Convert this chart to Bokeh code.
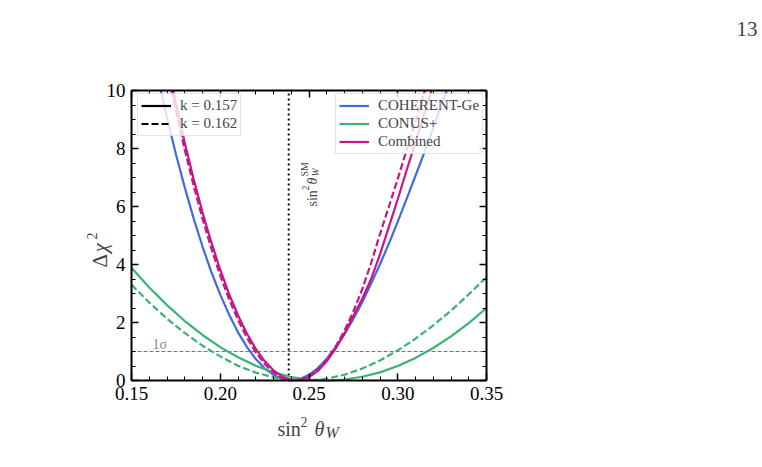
import math
from bokeh.plotting import figure
from bokeh.models import (Range1d, LinearAxis, FixedTicker, Legend, LegendItem, Label,
                          PrintfTickFormatter, CustomJSTickFormatter)
from bokeh.embed import file_html
from bokeh.resources import INLINE

# ---- Delta chi^2 profiles versus sin^2(theta_W) ----
coh_x = [0.160, 0.165, 0.170, 0.175, 0.180, 0.185, 0.190, 0.195, 0.200, 0.205, 0.210, 0.215,
         0.220, 0.225, 0.230, 0.235, 0.240, 0.245, 0.250, 0.255, 0.260, 0.265, 0.270, 0.275,
         0.280, 0.285, 0.290, 0.295, 0.300, 0.305, 0.310, 0.315, 0.320, 0.325, 0.330, 0.335]
coh_chi2 = [11.8, 10.4, 9.06, 7.81, 6.66, 5.59, 4.62, 3.74, 2.96, 2.27, 1.66, 1.16,
            0.74, 0.42, 0.19, 0.05, 0.0, 0.05, 0.196, 0.43, 0.75, 1.14, 1.60, 2.12,
            2.70, 3.34, 4.01, 4.72, 5.48, 6.26, 7.06, 7.87, 8.71, 9.57, 10.41, 11.2]

conus_x = [0.15, 0.16, 0.17, 0.18, 0.19, 0.20, 0.21, 0.22, 0.23, 0.24, 0.25,
           0.26, 0.27, 0.28, 0.29, 0.30, 0.31, 0.32, 0.33, 0.34, 0.35]
conus_chi2_k157 = [3.89, 3.21, 2.60, 2.05, 1.57, 1.15, 0.80, 0.51, 0.28, 0.12, 0.03,
                   0.0, 0.034, 0.13, 0.28, 0.50, 0.78, 1.12, 1.52, 1.98, 2.50]
conus_chi2_k162 = [3.30, 2.69, 2.13, 1.64, 1.20, 0.83, 0.51, 0.27, 0.11, 0.02, 0.0,
                   0.06, 0.20, 0.41, 0.69, 1.04, 1.44, 1.90, 2.41, 2.97, 3.56]

comb_x = [0.165, 0.170, 0.175, 0.180, 0.185, 0.190, 0.195, 0.200, 0.205, 0.210, 0.215,
          0.220, 0.225, 0.230, 0.235, 0.240, 0.245, 0.250, 0.255, 0.260, 0.265, 0.270,
          0.275, 0.280, 0.285, 0.290, 0.295, 0.300, 0.305, 0.310, 0.315, 0.320, 0.325]
comb_chi2_k157 = [12.57, 11.0, 9.55, 8.20, 6.95, 5.80, 4.76, 3.82, 2.98, 2.25, 1.62,
                  1.09, 0.67, 0.35, 0.13, 0.02, 0.01, 0.12, 0.33, 0.66, 1.10, 1.62,
                  2.22, 2.82, 3.50, 4.35, 5.30, 6.25, 7.25, 8.22, 9.20, 10.2, 11.2]
comb_chi2_k162 = [12.3, 10.76, 9.31, 7.96, 6.72, 5.58, 4.55, 3.62, 2.80, 2.09, 1.48,
                  0.97, 0.57, 0.28, 0.09, 0.01, 0.03, 0.15, 0.38, 0.72, 1.17, 1.72,
                  2.38, 3.15, 4.05, 5.05, 6.00, 6.95, 7.95, 8.95, 9.95, 11.0, 12.0]

sin2_sm = 0.23857
one_sigma = 1.0

x_lo, x_hi = 0.15, 0.35
y_lo, y_hi = 0.0, 10.0
x_major = [0.15, 0.20, 0.25, 0.30, 0.35]
x_minor = [round(0.15 + 0.01 * i, 2) for i in range(21)]
y_major = [0, 2, 4, 6, 8, 10]
y_minor = [0.5 * i for i in range(21)]

SERIF = "Liberation Serif"
BLUE = "#4169E1"
GREEN = "#3CB371"
MAGENTA = "#C71585"
DASH = "7 3"
LW = 2.2
NAN = float("nan")

# page geometry: the canvas is the frame, the axes box sits inside it
W, H = 762, 467
BOX_L, BOX_R, BOX_T, BOX_B = 131, 486, 90, 380
dx = (x_hi - x_lo) / (BOX_R - BOX_L)
dy = (y_hi - y_lo) / (BOX_B - BOX_T)

p = figure(width=W, height=H, output_backend="svg", toolbar_location=None,
           x_range=Range1d(x_lo - BOX_L * dx, x_hi + (W - BOX_R) * dx),
           y_range=Range1d(y_lo - (H - BOX_B) * dy, y_hi + BOX_T * dy),
           x_axis_type=None, y_axis_type=None)
p.min_border = 0
p.min_border_left = p.min_border_right = p.min_border_top = p.min_border_bottom = 0
p.background_fill_color = "white"
p.border_fill_color = "white"
p.outline_line_color = None
p.xgrid.visible = False
p.ygrid.visible = False

xt = FixedTicker(ticks=x_major, minor_ticks=x_minor)
yt = FixedTicker(ticks=y_major, minor_ticks=y_minor)
blank = CustomJSTickFormatter(code="return ''")


def make_axis(ticker, formatter, loc, bounds, side):
    ax = LinearAxis(ticker=ticker, formatter=formatter, fixed_location=loc, bounds=bounds)
    ax.axis_line_width = 2
    ax.axis_line_color = "black"
    ax.major_tick_in = 7
    ax.major_tick_out = 0
    ax.minor_tick_in = 4
    ax.minor_tick_out = 0
    ax.major_tick_line_width = 1.5
    ax.minor_tick_line_width = 1
    ax.major_tick_line_color = "black"
    ax.minor_tick_line_color = "black"
    ax.major_label_text_font = SERIF
    ax.major_label_text_font_size = "19px"
    ax.major_label_text_color = "black"
    ax.major_label_standoff = 6
    p.add_layout(ax, side)


make_axis(xt, PrintfTickFormatter(format="%.2f"), y_lo, (x_lo, x_hi), "below")
make_axis(yt, PrintfTickFormatter(format="%d"), x_lo, (y_lo, y_hi), "left")
make_axis(xt, blank, y_hi, (x_lo, x_hi), "above")
make_axis(yt, blank, x_hi, (y_lo, y_hi), "right")


def clip_top(xs, ys, top=y_hi):
    """Cut a polyline where it leaves the axes box through the top edge."""
    ox, oy = [], []
    for i, (x, y) in enumerate(zip(xs, ys)):
        if i > 0:
            x0, y0 = xs[i - 1], ys[i - 1]
            if (y0 > top) != (y > top):
                t = (top - y0) / (y - y0)
                ox.append(x0 + t * (x - x0))
                oy.append(top)
        if y <= top:
            ox.append(x)
            oy.append(y)
    return ox, oy


# reference lines
p.line([sin2_sm, sin2_sm], [y_lo, y_hi], line_color="black", line_width=2, line_dash="2 3")
p.line([x_lo, x_hi], [one_sigma, one_sigma], line_color="#777777", line_width=1,
       line_dash="4 2")

# curves
r_coh = p.line(*clip_top(coh_x, coh_chi2), line_color=BLUE, line_width=LW)
r_con = p.line(*clip_top(conus_x, conus_chi2_k157), line_color=GREEN, line_width=LW)
p.line(*clip_top(conus_x, conus_chi2_k162), line_color=GREEN, line_width=LW, line_dash=DASH)
r_comb = p.line(*clip_top(comb_x, comb_chi2_k157), line_color=MAGENTA, line_width=LW)
p.line(*clip_top(comb_x, comb_chi2_k162), line_color=MAGENTA, line_width=LW, line_dash=DASH)

# legend keys for the two quenching values (nothing drawn in the box)
r_solid = p.line(x=[NAN], y=[NAN], line_color="black", line_width=LW)
r_dashed = p.line(x=[NAN], y=[NAN], line_color="black", line_width=LW, line_dash=DASH)


def make_legend(items, loc):
    leg = Legend(items=items, location=loc)
    leg.background_fill_color = "white"
    leg.background_fill_alpha = 0.8
    leg.border_line_color = "#cccccc"
    leg.border_line_width = 1
    leg.label_text_font = SERIF
    leg.label_text_font_size = "15px"
    leg.glyph_width = 30
    leg.glyph_height = 17
    leg.label_height = 17
    leg.spacing = 1
    leg.padding = 3
    leg.margin = 0
    leg.label_standoff = 9
    p.add_layout(leg)


make_legend([LegendItem(label="k = 0.157", renderers=[r_solid]),
             LegendItem(label="k = 0.162", renderers=[r_dashed])], (137, 331))
make_legend([LegendItem(label="COHERENT-Ge", renderers=[r_coh]),
             LegendItem(label="CONUS+", renderers=[r_con]),
             LegendItem(label="Combined", renderers=[r_comb])], (335, 313))

# 1 sigma tag
p.add_layout(Label(x=0.1618, y=1.25, text="1σ", text_font=SERIF, text_font_size="14px",
                   text_color="#888888", text_baseline="alphabetic"))

HALF = math.pi / 2


def page_text(px, py, text, size, italic=False, angle=0.0, align="left"):
    """Text placed in page pixels, measured from the top-left corner."""
    p.add_layout(Label(x=px, y=H - py, x_units="screen", y_units="screen", text=text,
                       angle=angle, text_font=SERIF, text_font_size=size,
                       text_font_style="italic" if italic else "normal",
                       text_align=align, text_baseline="alphabetic"))


# vertical SM label next to the dotted line
page_text(312, 206, "sin", "14px", angle=HALF)
page_text(305, 190, "2", "10px", angle=HALF)
page_text(312, 184, "θ", "14px", italic=True, angle=HALF)
page_text(315, 176, "W", "10px", italic=True, angle=HALF)
page_text(304, 176, "SM", "10px", angle=HALF)

# axis titles
page_text(277, 428, "sin", "20px")
page_text(300, 421, "2", "14px")
page_text(314, 428, "θ", "20px", italic=True)
page_text(325, 432, "W", "16px", italic=True)
page_text(99, 267, "Δ", "21px", angle=HALF)
page_text(99, 252, "χ", "21px", italic=True, angle=HALF)
page_text(91, 239, "2", "14px", angle=HALF)

# page number
page_text(757, 28, "13", "21px", align="right")

open("out.html", "w").write(file_html(p, INLINE))
